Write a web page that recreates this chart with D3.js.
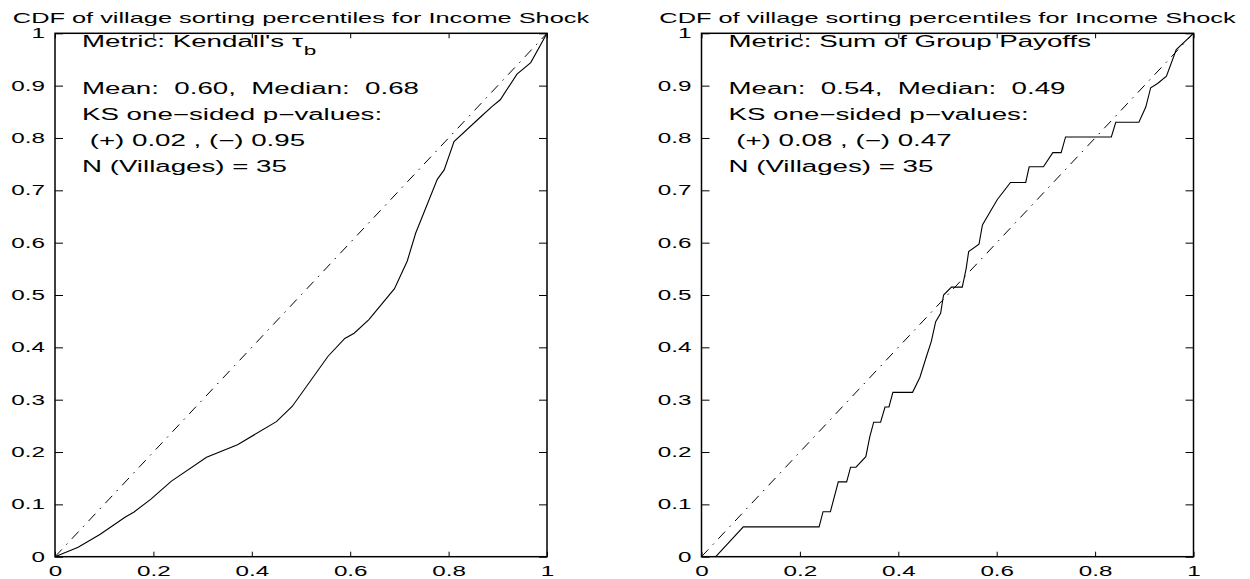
<!DOCTYPE html>
<html>
<head>
<meta charset="utf-8">
<script src="https://cdn.jsdelivr.net/npm/d3@7"></script>
<style>
  body { margin: 0; background: #fff; }
  text { font-family: "Liberation Sans", Arial, Helvetica, sans-serif; fill: #000; }
</style>
</head>
<body>
<svg id="chart" width="1250" height="579"></svg>
<script>
"use strict";

var chartTitle = "CDF of village sorting percentiles for Income Shock";

var xTicks = [0, 0.2, 0.4, 0.6, 0.8, 1];
var xTickLabels = ["0", "0.2", "0.4", "0.6", "0.8", "1"];
var yTicks = [0, 0.1, 0.2, 0.3, 0.4, 0.5, 0.6, 0.7, 0.8, 0.9, 1];
var yTickLabels = ["0", "0.1", "0.2", "0.3", "0.4", "0.5", "0.6", "0.7", "0.8", "0.9", "1"];

// left panel: Kendall's tau_b
var kendallX = [0, 0.047, 0.092, 0.143, 0.160, 0.195, 0.236, 0.308, 0.371, 0.450, 0.482, 0.555, 0.589, 0.608, 0.638,
                0.690, 0.716, 0.733, 0.777, 0.791, 0.811, 0.866, 0.888, 0.905, 0.939, 0.967, 1];
var kendallY = [0, 0.018, 0.043, 0.076, 0.085, 0.110, 0.144, 0.190, 0.214, 0.258, 0.287, 0.383, 0.417, 0.427, 0.453,
                0.512, 0.565, 0.618, 0.721, 0.739, 0.793, 0.841, 0.860, 0.873, 0.922, 0.944, 1];
var kendallNotes = ["Metric: Kendall's \u03c4", "Mean:  0.60,  Median:  0.68", "KS one\u2212sided p\u2212values:",
                    " (+) 0.02 , (\u2212) 0.95", "N (Villages) = 35"];

// right panel: sum of group payoffs
var payoffX = [0.029, 0.085, 0.239, 0.247, 0.262, 0.278, 0.295, 0.303, 0.314, 0.334, 0.342, 0.350, 0.364, 0.373,
               0.381, 0.389, 0.429, 0.444, 0.457, 0.467, 0.476, 0.486, 0.492, 0.508, 0.530, 0.538, 0.543, 0.564,
               0.571, 0.601, 0.628, 0.659, 0.666, 0.695, 0.714, 0.731, 0.740, 0.833, 0.842, 0.889, 0.903, 0.913,
               0.927, 0.945, 0.965, 1];
var payoffY = [0, 0.057, 0.057, 0.086, 0.086, 0.143, 0.143, 0.171, 0.171, 0.191, 0.229, 0.257, 0.257, 0.286,
               0.286, 0.314, 0.314, 0.343, 0.382, 0.411, 0.449, 0.465, 0.500, 0.515, 0.515, 0.551, 0.583, 0.597,
               0.634, 0.682, 0.715, 0.715, 0.745, 0.745, 0.772, 0.772, 0.802, 0.802, 0.830, 0.830, 0.859, 0.896,
               0.904, 0.918, 0.969, 1];
var payoffNotes = ["Metric: Sum of Group Payoffs", "Mean:  0.54,  Median:  0.49", "KS one\u2212sided p\u2212values:",
                   " (+) 0.08 , (\u2212) 0.47", "N (Villages) = 35"];

var svg = d3.select("#chart");
var plotW = 492, plotTop = 33.3, plotBottom = 556.7;
var noteRows = [46.5, 93.5, 119.8, 146, 172.3];

// the original figure is stretched sideways, so glyphs are widened too
function stretch(sel, k) {
   sel.each(function () {
      var w = this.getComputedTextLength();
      if (w > 0) d3.select(this).attr("textLength", w * k).attr("lengthAdjust", "spacingAndGlyphs");
   });
}

var panels = [
   { left: 55, xs: kendallX, ys: kendallY, notes: kendallNotes, sub: "b" },
   { left: 701.5, xs: payoffX, ys: payoffY, notes: payoffNotes, sub: null }
];

panels.forEach(function (p) {
   var x = d3.scaleLinear().domain([0, 1]).range([p.left, p.left + plotW]);
   var y = d3.scaleLinear().domain([0, 1]).range([plotBottom, plotTop]);

   var bottomAxis = d3.axisBottom(x).tickValues(xTicks).tickFormat(function (d, i) { return xTickLabels[i]; })
      .tickSizeInner(-5).tickSizeOuter(0).tickPadding(9);
   var gb = svg.append("g").attr("transform", "translate(0," + plotBottom + ")").call(bottomAxis);
   var leftAxis = d3.axisLeft(y).tickValues(yTicks).tickFormat(function (d, i) { return yTickLabels[i]; })
      .tickSizeInner(-8).tickSizeOuter(0).tickPadding(10);
   var gl = svg.append("g").attr("transform", "translate(" + p.left + ",0)").call(leftAxis);
   var gt = svg.append("g").attr("transform", "translate(0," + plotTop + ")")
      .call(d3.axisTop(x).tickValues(xTicks).tickFormat("").tickSizeInner(-5).tickSizeOuter(0));
   var gr = svg.append("g").attr("transform", "translate(" + (p.left + plotW) + ",0)")
      .call(d3.axisRight(y).tickValues(yTicks).tickFormat("").tickSizeInner(-8).tickSizeOuter(0));

   [gb, gl, gt, gr].forEach(function (g) {
      g.select(".domain").remove();
      g.selectAll(".tick line").attr("stroke", "#000").attr("stroke-width", 1);
      g.attr("font-size", 14).attr("font-family", null);
   });
   stretch(gb.selectAll("text"), 1.73);
   stretch(gl.selectAll("text"), 1.73);

   // frame
   svg.append("rect").attr("x", p.left).attr("y", plotTop).attr("width", plotW).attr("height", plotBottom - plotTop)
      .attr("fill", "none").attr("stroke", "#000").attr("stroke-width", 1.5);

   // reference diagonal
   svg.append("path").datum([[0, 0], [1, 1]])
      .attr("d", d3.line().x(function (d) { return x(d[0]); }).y(function (d) { return y(d[1]); }))
      .attr("fill", "none").attr("stroke", "#000").attr("stroke-width", 1)
      .attr("stroke-dasharray", "10,6.5,1.5,6.5");

   // empirical CDF
   svg.append("path").datum(d3.range(p.xs.length))
      .attr("d", d3.line().x(function (i) { return x(p.xs[i]); }).y(function (i) { return y(p.ys[i]); }))
      .attr("fill", "none").attr("stroke", "#000").attr("stroke-width", 1.1);

   // title
   var t = svg.append("text").attr("x", p.left + plotW / 2).attr("y", 22.5)
      .attr("text-anchor", "middle").attr("font-size", 15).text(chartTitle);
   stretch(t, 1.69);

   // annotation block
   p.notes.forEach(function (s, i) {
      var n = svg.append("text").attr("x", p.left + 27).attr("y", noteRows[i])
         .attr("font-size", 16).style("white-space", "pre").text(s);
      stretch(n, 1.73);
      if (i === 0 && p.sub) {
         var end = p.left + 27 + (+n.attr("textLength"));
         var b = svg.append("text").attr("x", end + 1).attr("y", noteRows[i] + 8)
            .attr("font-size", 13).text(p.sub);
         stretch(b, 1.73);
      }
   });
});
</script>
</body>
</html>
